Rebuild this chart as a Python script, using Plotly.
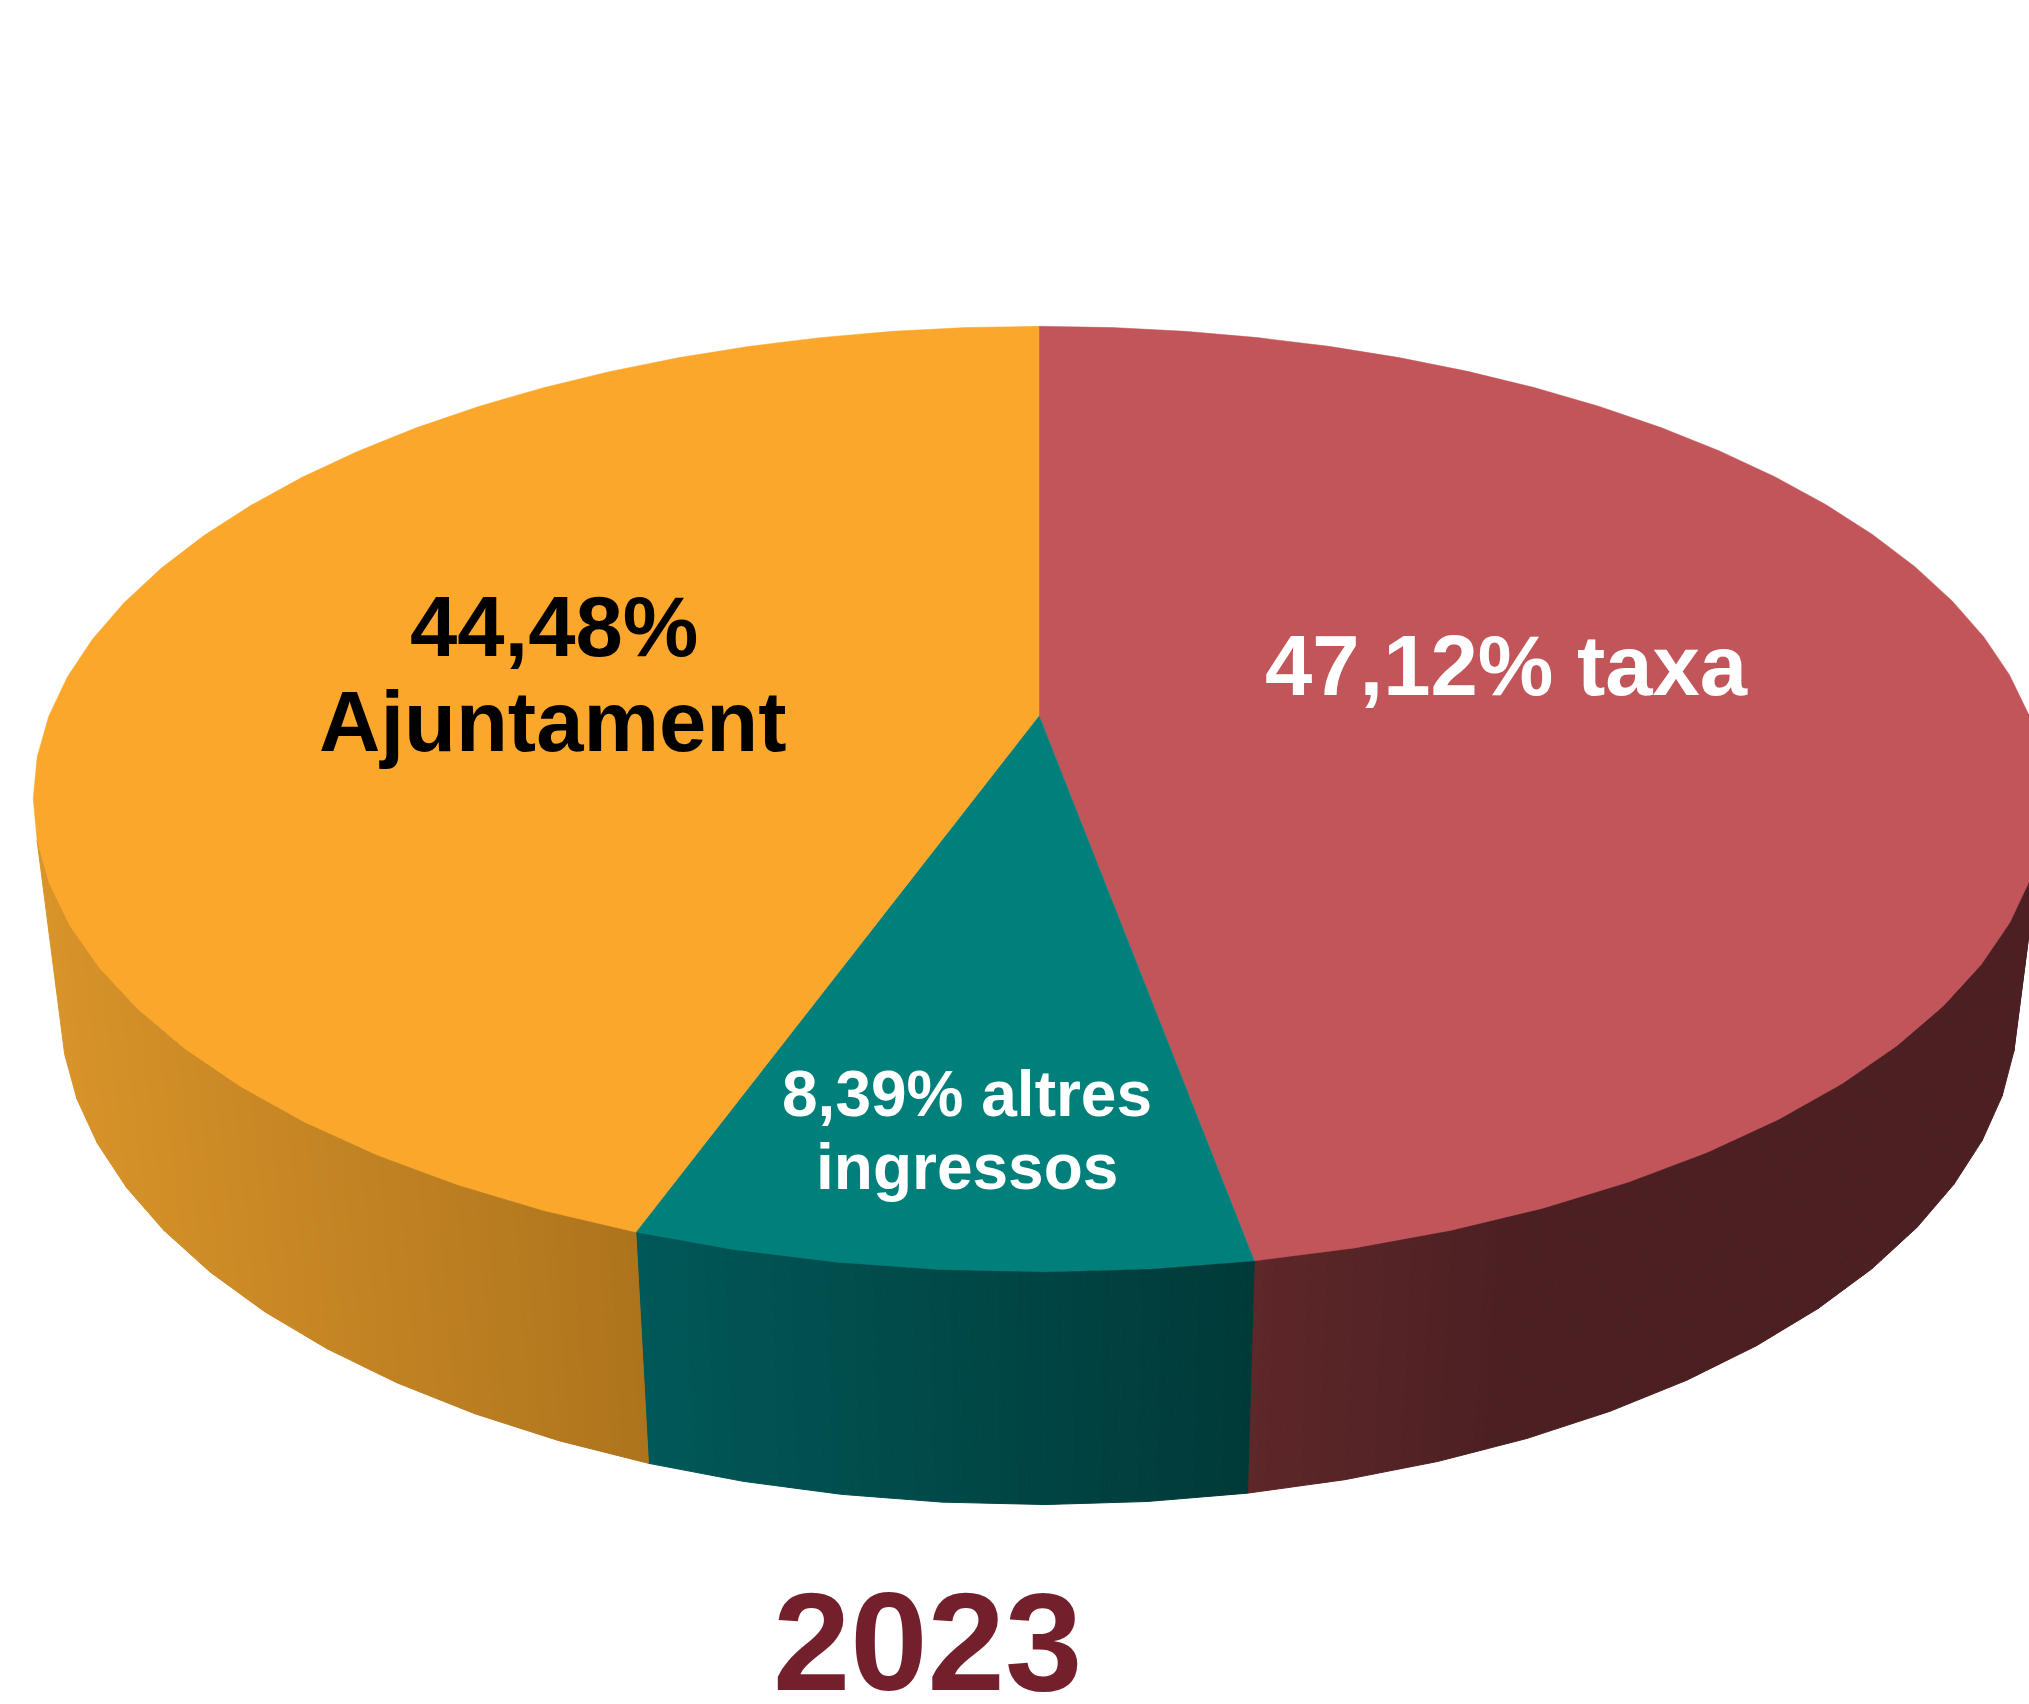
import numpy as np
import plotly.graph_objects as go

# --- data ---
categories = ["taxa", "altres ingressos", "Ajuntament"]
shares = [47.12, 8.39, 44.48]
top_colors = ["#C25559", "#007F7B", "#FBA72C"]
side_left = [(0x5E, 0x27, 0x29), (0x01, 0x58, 0x58), (0xDA, 0x95, 0x2A)]
side_right = [(0x4C, 0x20, 0x23), (0x00, 0x3A, 0x38), (0xAE, 0x74, 0x1D)]
title = "2023"

# --- projection of the disc (page pixels as axis units) ---
W, H = 2029, 1704
CX, CY = 1039.0, 715.6
A, B, Q, R, E = 990.0, 458.0, 0.1765, 0.027, 213.0
STEP = 5.0


def project(deg, z):
    a = np.radians(deg)
    c, s = np.sin(a), -np.cos(a)
    w = 1 - Q * s + R * z
    return CX + A * c / w, CY + (B * s + E * z) / w


edges = np.cumsum([0.0] + shares) / sum(shares) * 360.0


def facet_angles(a0, a1):
    # every slice is divided into equal facets of about STEP degrees
    return np.linspace(a0, a1, int(round((a1 - a0) / STEP)) + 1)


def rgb(t, c0, c1):
    t = min(max(t, 0.0), 1.0)
    return "rgb(%d,%d,%d)" % tuple(round(u + (v - u) * t) for u, v in zip(c0, c1))


fig = go.Figure()
x_span = [(1250.0, 1500.0), (640.0, 1250.0), (30.0, 640.0)]

# side wall: painted as thin vertical strips so the shade follows x
for i in range(3):
    angles = facet_angles(edges[i], edges[i + 1])
    angles = angles[(angles >= 85.0) & (angles <= 256.0)]
    for p, q in zip(angles[:-1], angles[1:]):
        xp, xq = project(p, 0)[0], project(q, 0)[0]
        n = max(1, int(abs(xq - xp) // 9))
        tt = np.linspace(0, 1, n + 1)
        tx0, ty0 = project(p, 0)
        tx1, ty1 = project(q, 0)
        bx0, by0 = project(p, 1)
        bx1, by1 = project(q, 1)
        for u, v in zip(tt[:-1], tt[1:]):
            xs = [tx0 + (tx1 - tx0) * u, tx0 + (tx1 - tx0) * v, bx0 + (bx1 - bx0) * v, bx0 + (bx1 - bx0) * u]
            ys = [ty0 + (ty1 - ty0) * u, ty0 + (ty1 - ty0) * v, by0 + (by1 - by0) * v, by0 + (by1 - by0) * u]
            mid = sum(xs) / 4
            col = rgb((mid - x_span[i][0]) / (x_span[i][1] - x_span[i][0]), side_left[i], side_right[i])
            fig.add_trace(go.Scatter(x=xs + xs[:1], y=ys + ys[:1], mode="lines", fill="toself",
                                     fillcolor=col, line=dict(color=col, width=1), hoverinfo="skip"))

# top face
for i in range(3):
    angles = facet_angles(edges[i], edges[i + 1])
    px, py = project(angles, 0)
    xs = np.concatenate([[CX], px, [CX]])
    ys = np.concatenate([[CY], py, [CY]])
    fig.add_trace(go.Scatter(x=xs, y=ys, mode="lines", fill="toself", fillcolor=top_colors[i],
                             line=dict(color=top_colors[i], width=0.5), name=categories[i], hoverinfo="skip"))

label_font = "Liberation Sans"
labels = [
    ("<b>44,48%</b>", 554, 626, 85, "#000000"),
    ("<b>Ajuntament</b>", 553, 721, 85, "#000000"),
    ("<b>47,12% taxa</b>", 1506, 665, 85, "#FFFFFF"),
    ("<b>8,39% altres</b>", 967, 1094, 64, "#FFFFFF"),
    ("<b>ingressos</b>", 967, 1167, 64, "#FFFFFF"),
    ("<b>%s</b>" % title, 927, 1641, 139, "#741F2C"),
]
for text, x, y, size, color in labels:
    fig.add_annotation(x=x, y=y, text=text, showarrow=False, xanchor="center", yanchor="middle",
                       font=dict(family=label_font, size=size, color=color))

fig.update_layout(
    width=W, height=H, margin=dict(l=0, r=0, t=0, b=0), showlegend=False,
    paper_bgcolor="white", plot_bgcolor="white",
    xaxis=dict(range=[0, W], visible=False, fixedrange=True),
    yaxis=dict(range=[H, 0], visible=False, fixedrange=True),
)
fig.write_html("out.html", post_script="document.body.style.margin='0';", config={"displayModeBar": False})
